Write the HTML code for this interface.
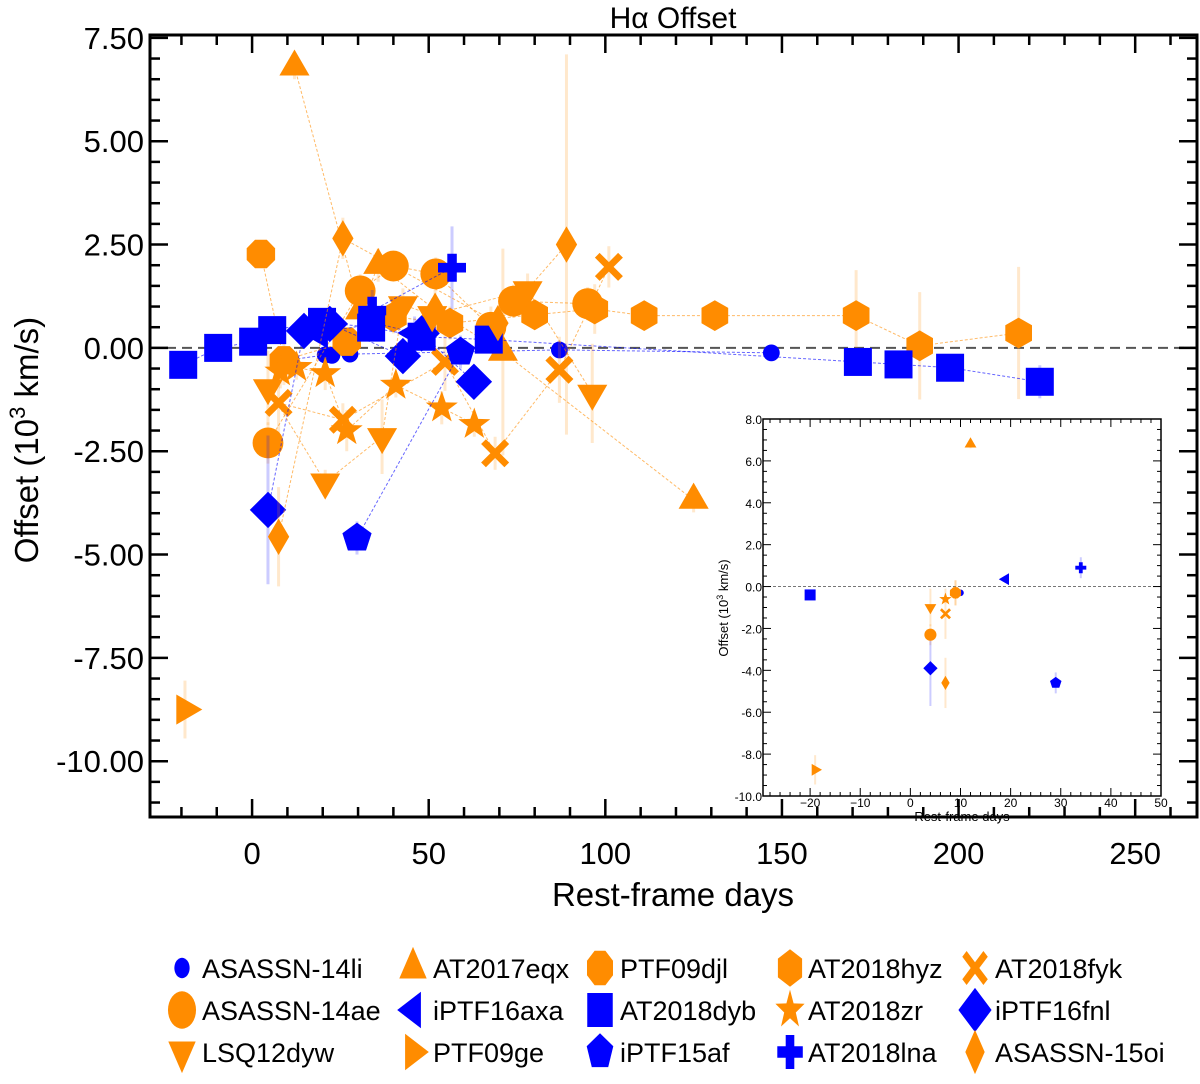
<!DOCTYPE html>
<html><head><meta charset="utf-8"><style>
html,body{margin:0;padding:0;background:#fff;}
svg{display:block;font-family:"Liberation Sans",sans-serif;}
</style></head><body>
<svg id="c" width="1200" height="1084" viewBox="0 0 1200 1084" xmlns="http://www.w3.org/2000/svg"></svg>
<script>
// ---------- data ----------
const li14Days=[10,20.7,22.6,27.7,87,147];
const li14Off=[-0.3,-0.17,-0.18,-0.15,-0.05,-0.12];
const li14Err=[0.1,0.1,0.1,0.1,0.1,0.1];
const eqxDays=[12,30.6,35.7,51.8,71,125];
const eqxOff=[6.8,0.9,2.0,0.92,-0.1,-3.68];
const eqxErr=[0.3,0.4,0.4,0.5,2.5,0.3];
const djlDays=[2.5,9,26.8];
const djlOff=[2.27,-0.3,0.15];
const djlErr=[0.2,0.6,0.3];
const hyzDays=[40,56,80,97,111,131,171,189,217];
const hyzOff=[0.75,0.6,0.8,0.94,0.78,0.78,0.78,0.05,0.36];
const hyzErr=[0.4,0.4,0.3,0.6,0.3,0.3,1.1,1.3,1.6];
const fykDays=[7.5,25.7,54.6,68.8,87,101];
const fykOff=[-1.33,-1.74,-0.34,-2.55,-0.53,1.96];
const fykErr=[1.2,0.4,0.7,0.4,0.8,0.5];
const aeDays=[4.5,30.6,40,52,67.6,74,95];
const aeOff=[-2.3,1.38,1.98,1.79,0.5,1.13,1.07];
const aeErr=[0.5,0.4,0.3,0.4,0.5,0.4,0.4];
const axaDays=[19,35,46];
const axaOff=[0.35,0.6,0.36];
const axaErr=[0.2,0.3,0.4];
const dybDays=[-19.5,-9.6,0.3,5.7,19.8,33.7,48,67,171.5,183,197.6,223];
const dybOff=[-0.41,0,0.15,0.43,0.63,0.49,0.27,0.2,-0.34,-0.4,-0.48,-0.82];
const dybErr=[0.1,0.1,0.1,0.1,0.3,0.2,0.3,0.2,0.2,0.2,0.3,0.4];
const zrDays=[8,12.6,20.7,26.8,40.7,53.7,62.9];
const zrOff=[-0.58,-0.47,-0.62,-2.0,-0.9,-1.45,-1.85];
const zrErr=[0.4,0.3,0.4,0.5,0.3,0.4,0.3];
const fnlDays=[4.5,14.7,22,42.7,48,62.8];
const fnlOff=[-3.92,0.41,0.58,-0.2,0.35,-0.82];
const fnlErr=[1.8,0.4,0.4,0.3,0.3,0.4];
const dywDays=[4.5,20.7,36.8,42.7,51,78,96.3];
const dywOff=[-0.97,-3.25,-2.15,1.04,0.8,1.4,-1.1];
const dywErr=[0.9,0.3,0.9,0.4,0.4,0.4,1.2];
const geDays=[-19];
const geOff=[-8.75];
const geErr=[0.7];
const af15Days=[29.7,59];
const af15Off=[-4.6,-0.1];
const af15Err=[0.4,0.4];
const lnaDays=[34,56.6];
const lnaOff=[0.9,1.94];
const lnaErr=[0.5,1.0];
const oi15Days=[7.5,25.7,69.6,89];
const oi15Off=[-4.57,2.65,0.6,2.5];
const oi15Err=[1.2,0.5,0.4,4.6];
// inset (first epoch)
const inDays=[10,12,9,9,7,4,19,-20,7,4,4,-19,29,34,7];
const inOff=[-0.3,6.8,-0.3,-0.3,-1.3,-2.3,0.35,-0.4,-0.6,-3.9,-1.0,-8.75,-4.6,0.9,-4.6];
const inErr=[0.1,0.2,0.6,0.6,1.2,0.5,0.1,0.1,0.2,1.8,0.9,0.7,0.5,0.5,1.2];
const mainYTicks=[7.5,5,2.5,0,-2.5,-5,-7.5,-10];
const mainYLabels=["7.50","5.00","2.50","0.00","-2.50","-5.00","-7.50","-10.00"];
const mainXTicks=[0,50,100,150,200,250];
const inYTicks=[8,6,4,2,0,-2,-4,-6,-8,-10];
const inYLabels=["8.0","6.0","4.0","2.0","0.0","-2.0","-4.0","-6.0","-8.0","-10.0"];
const inXTicks=[-20,-10,0,10,20,30,40,50];
const inXLabels=["\u221220","\u221210","0","10","20","30","40","50"];

const B='#0000ff',O='#ff8c00';
const series=[
 {n:'ASASSN-14li',c:B,m:'sc',d:li14Days,v:li14Off,e:li14Err},
 {n:'AT2017eqx',c:O,m:'tu',d:eqxDays,v:eqxOff,e:eqxErr},
 {n:'PTF09djl',c:O,m:'oct',d:djlDays,v:djlOff,e:djlErr},
 {n:'AT2018hyz',c:O,m:'hex',d:hyzDays,v:hyzOff,e:hyzErr},
 {n:'AT2018fyk',c:O,m:'x',d:fykDays,v:fykOff,e:fykErr},
 {n:'ASASSN-14ae',c:O,m:'ci',d:aeDays,v:aeOff,e:aeErr},
 {n:'iPTF16axa',c:B,m:'tl',d:axaDays,v:axaOff,e:axaErr},
 {n:'AT2018dyb',c:B,m:'sq',d:dybDays,v:dybOff,e:dybErr},
 {n:'AT2018zr',c:O,m:'st',d:zrDays,v:zrOff,e:zrErr},
 {n:'iPTF16fnl',c:B,m:'di',d:fnlDays,v:fnlOff,e:fnlErr},
 {n:'LSQ12dyw',c:O,m:'td',d:dywDays,v:dywOff,e:dywErr},
 {n:'PTF09ge',c:O,m:'tr',d:geDays,v:geOff,e:geErr},
 {n:'iPTF15af',c:B,m:'pe',d:af15Days,v:af15Off,e:af15Err},
 {n:'AT2018lna',c:B,m:'pl',d:lnaDays,v:lnaOff,e:lnaErr},
 {n:'ASASSN-15oi',c:O,m:'td2',d:oi15Days,v:oi15Off,e:oi15Err}
];
const inMarks=['sc','tu','oct','hex','x','ci','tl','sq','st','di','td','tr','pe','pl','td2'];

// ---------- helpers ----------
const NS='http://www.w3.org/2000/svg';
const svg=document.getElementById('c');
function mk(tag,attrs,parent){const e=document.createElementNS(NS,tag);for(const k in attrs)e.setAttribute(k,attrs[k]);(parent||svg).appendChild(e);return e;}
function poly(n,r,rot,cx,cy,sx){let p=[];for(let i=0;i<n;i++){const a=rot+i*2*Math.PI/n;p.push((cx+r*sx*Math.cos(a)).toFixed(1)+','+(cy+r*Math.sin(a)).toFixed(1));}return p.join(' ');}
function marker(g,m,cx,cy,s,col,sx){
 sx=sx||1;let e;
 const P=(pts)=>mk('polygon',{points:pts,fill:col},g);
 switch(m){
  case 'sc':e=mk('ellipse',{cx,cy,rx:s*0.3*sx,ry:s*0.3,fill:col},g);break;
  case 'ci':e=mk('ellipse',{cx,cy,rx:s*0.55*sx,ry:s*0.55,fill:col},g);break;
  case 'sq':e=mk('rect',{x:cx-s*0.5*sx,y:cy-s*0.5,width:s*sx,height:s,fill:col},g);break;
  case 'tu':e=P(poly(3,s*0.62,-Math.PI/2,cx,cy,sx));break;
  case 'td':e=P(poly(3,s*0.62,Math.PI/2,cx,cy,sx));break;
  case 'tl':e=P(poly(3,s*0.62,Math.PI,cx,cy,sx));break;
  case 'tr':e=P(poly(3,s*0.62,0,cx,cy,sx));break;
  case 'oct':e=P(poly(8,s*0.55,Math.PI/8,cx,cy,sx));break;
  case 'hex':e=P(poly(6,s*0.55,-Math.PI/2,cx,cy,sx));break;
  case 'pe':e=P(poly(5,s*0.55,-Math.PI/2,cx,cy,sx));break;
  case 'di':e=P(poly(4,s*0.65,0,cx,cy,sx));break;
  case 'td2':e=P(`${cx},${cy-s*0.65} ${cx+s*0.38*sx},${cy} ${cx},${cy+s*0.65} ${cx-s*0.38*sx},${cy}`);break;
  case 'st':{let p=[];for(let i=0;i<10;i++){const a=-Math.PI/2+i*Math.PI/5;const r=i%2?s*0.24:s*0.6;p.push((cx+r*sx*Math.cos(a)).toFixed(1)+','+(cy+r*Math.sin(a)).toFixed(1));}e=P(p.join(' '));break;}
  case 'x':{const a=s*0.5,t=s*0.17;e=P([[-a,-a+t],[-a+t,-a],[0,-t],[a-t,-a],[a,-a+t],[t,0],[a,a-t],[a-t,a],[0,t],[-a+t,a],[-a,a-t],[-t,0]].map(q=>(cx+q[0]*sx).toFixed(1)+','+(cy+q[1]).toFixed(1)).join(' '));break;}
  case 'pl':{const a=s*0.5,t=s*0.17;e=P([[-t,-a],[t,-a],[t,-t],[a,-t],[a,t],[t,t],[t,a],[-t,a],[-t,t],[-a,t],[-a,-t],[-t,-t]].map(q=>(cx+q[0]*sx).toFixed(1)+','+(cy+q[1]).toFixed(1)).join(' '));break;}
 }
 return e;
}
function txt(x,y,s,size,anchor,parent,extra){const t=mk('text',Object.assign({x,y,'font-size':size,'text-anchor':anchor||'middle',fill:'#000'},extra||{}),parent);t.textContent=s;return t;}

// ---------- main axes ----------
const L=150,R=1197,T=35,Bt=817;
const X0=-28.9,X1=267.5,Y0=-11.35,Y1=7.57;
const xs=d=>L+(d-X0)/(X1-X0)*(R-L);
const ys=v=>Bt-(v-Y0)/(Y1-Y0)*(Bt-T);
const cp=mk('clipPath',{id:'mclip'});
mk('rect',{x:L,y:T,width:R-L,height:Bt-T},cp);
const plot=mk('g',{'clip-path':'url(#mclip)'});


const zl=mk('line',{x1:L,x2:R,y1:ys(0),y2:ys(0),stroke:'#555','stroke-width':2,'stroke-dasharray':'10,6'},plot);


series.forEach(s=>{
 const g=mk('g',{},plot);
 
 
 const pts=s.d.map((d,i)=>xs(d).toFixed(1)+','+ys(s.v[i]).toFixed(1)).join(' ');
 if(s.d.length>1){const l=mk('polyline',{points:pts,fill:'none',stroke:s.c,'stroke-width':1,'stroke-dasharray':'3,2','stroke-opacity':0.6},g);
  
  }
 s.d.forEach((d,i)=>{
  const eb=mk('line',{x1:xs(d),x2:xs(d),y1:ys(s.v[i]+s.e[i]),y2:ys(s.v[i]-s.e[i]),stroke:s.c,'stroke-width':3,'stroke-opacity':0.2},g);
  
  
 });
 s.d.forEach((d,i)=>{
  const p=marker(g,s.m,xs(d),ys(s.v[i]),28,s.c);
  
  
 });
});
const fr=mk('rect',{x:L,y:T,width:R-L,height:Bt-T,fill:'none',stroke:'#000','stroke-width':3});


const tg=mk('g',{stroke:'#000','stroke-width':2.5});


for(let v=-11;v<=7.5;v+=0.5){const y=ys(v);const maj=Math.abs(v/2.5-Math.round(v/2.5))<1e-6;const len=maj?18:10;
 mk('line',{x1:L,x2:L+len,y1:y,y2:y},tg);mk('line',{x1:R,x2:R-len,y1:y,y2:y},tg);}
for(let d=-20;d<=260;d+=10){const x=xs(d);const len=d%50===0?18:10;
 mk('line',{x1:x,x2:x,y1:Bt,y2:Bt-len},tg);mk('line',{x1:x,x2:x,y1:T,y2:T+len},tg);}
mainYTicks.forEach((v,i)=>{const t=txt(L-6,ys(v)+11,mainYLabels[i],31,'end');
 
 });
mainXTicks.forEach(d=>{const t=txt(xs(d),Bt+47,String(d),31,'middle');
 
 });
const tt=txt(673,28,'Hα Offset',30,'middle');


const xl=txt(673,906,'Rest-frame days',33,'middle');


const yl=mk('text',{x:0,y:0,'font-size':33,'text-anchor':'middle',transform:'translate(38,440) rotate(-90)'});
yl.innerHTML='Offset (10<tspan dy="-13" font-size="22">3</tspan><tspan dy="13"> km/s)</tspan>';



// ---------- inset ----------
const iL=763,iR=1161,iT=419,iB=796,iX0=-29.4,iX1=50,iY0=-10,iY1=8;
const ixs=d=>iL+(d-iX0)/(iX1-iX0)*(iR-iL);
const iys=v=>iB-(v-iY0)/(iY1-iY0)*(iB-iT);
const ig=mk('g',{});


mk('rect',{x:iL,y:iT,width:iR-iL,height:iB-iT,fill:'#fff',stroke:'none'},ig);
mk('line',{x1:iL,x2:iR,y1:iys(0),y2:iys(0),stroke:'#777','stroke-width':1,'stroke-dasharray':'3,2'},ig);
inDays.forEach((d,i)=>{const col=series[i].c;
 const eb=mk('line',{x1:ixs(d),x2:ixs(d),y1:iys(inOff[i]+inErr[i]),y2:iys(inOff[i]-inErr[i]),stroke:col,'stroke-width':2,'stroke-opacity':0.2},ig);
 
 });
inDays.forEach((d,i)=>{const p=marker(ig,inMarks[i],ixs(d),iys(inOff[i]),11,series[i].c);
 
 });
mk('rect',{x:iL,y:iT,width:iR-iL,height:iB-iT,fill:'none',stroke:'#000','stroke-width':1.5},ig);
const itg=mk('g',{stroke:'#000','stroke-width':1},ig);
for(let v=-10;v<=8;v+=0.5){const y=iys(v);const len=Math.abs(v/2-Math.round(v/2))<1e-6?8:4;
 mk('line',{x1:iL,x2:iL+len,y1:y,y2:y},itg);mk('line',{x1:iR,x2:iR-len,y1:y,y2:y},itg);}
for(let d=-28;d<=50;d+=2){const x=ixs(d);const len=d%10===0?8:4;
 mk('line',{x1:x,x2:x,y1:iB,y2:iB-len},itg);mk('line',{x1:x,x2:x,y1:iT,y2:iT+len},itg);}
inYTicks.forEach((v,i)=>{const t=txt(iL-1,iys(v)+5,inYLabels[i],12,'end',ig);
 
 });
inXTicks.forEach((d,i)=>{const t=txt(ixs(d),iB+11,inXLabels[i],12,'middle',ig);
 
 });
const ixl=txt(962,821,'Rest-frame days',13,'middle',ig);


const iyl=mk('text',{x:0,y:0,'font-size':13,'text-anchor':'middle',transform:'translate(728,608) rotate(-90)'},ig);
iyl.innerHTML='Offset (10<tspan dy="-5" font-size="9">3</tspan><tspan dy="5"> km/s)</tspan>';



// ---------- legend ----------
const lg=mk('g',{});


const colMk=[182,413,600,790,975],colTx=[202,433,620,808,995],rowY=[968,1010,1052];
series.forEach((s,i)=>{const r=Math.floor(i/5),c=i%5;
 const e=mk('g',{},lg);
 
 
 marker(e,s.m,colMk[c],rowY[r],34,s.c,0.75);
 txt(colTx[c],rowY[r]+10,s.n,27,'start',e);
});
</script>
</body></html>
